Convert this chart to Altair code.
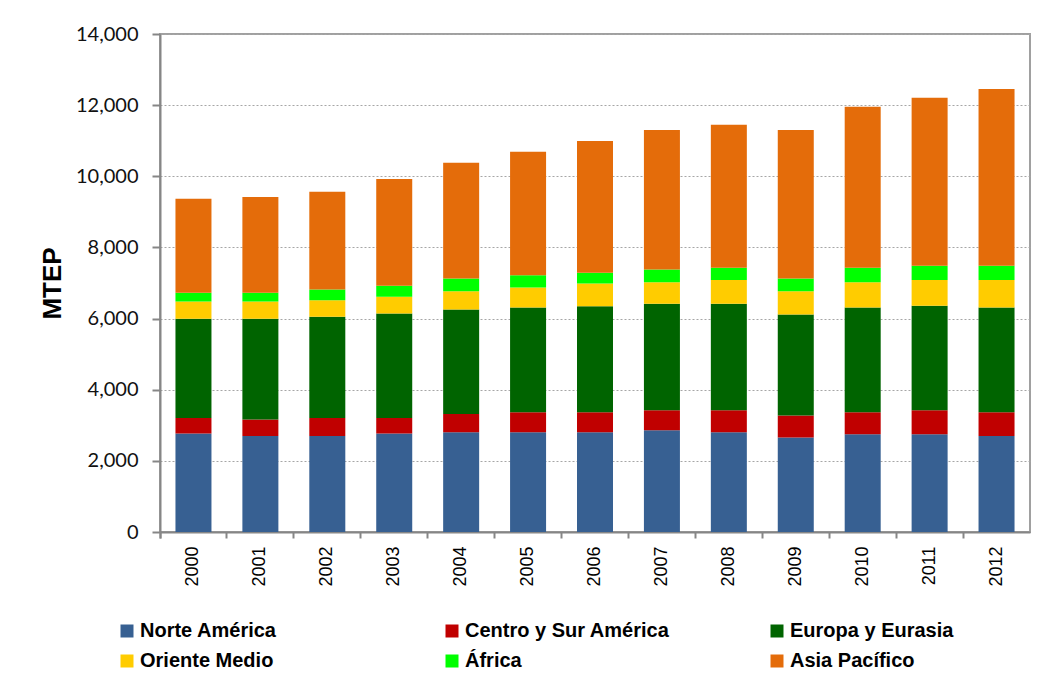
import altair as alt
import pandas as pd

years = ["2000", "2001", "2002", "2003", "2004", "2005", "2006",
         "2007", "2008", "2009", "2010", "2011", "2012"]
series = ["Norte América", "Centro y Sur América", "Europa y Eurasia",
          "Oriente Medio", "África", "Asia Pacífico"]
colors = ["#376092", "#C00000", "#006400", "#FFCC00", "#00FF00", "#E46C0A"]

norte = [2768, 2701, 2701, 2768, 2805, 2805, 2805, 2861, 2805, 2655, 2748, 2748, 2701]
centro = [439, 460, 506, 439, 514, 562, 562, 562, 618, 619, 619, 675, 666]
europa = [2785, 2831, 2841, 2936, 2937, 2945, 2982, 2991, 2991, 2841, 2945, 2934, 2945]
oriente = [489, 489, 470, 468, 515, 563, 638, 610, 667, 656, 712, 724, 769]
africa = [242, 242, 300, 309, 357, 346, 299, 357, 346, 357, 403, 402, 402]
asia = [2644, 2692, 2746, 3001, 3252, 3469, 3704, 3919, 4022, 4172, 4528, 4726, 4970]

values = [norte, centro, europa, oriente, africa, asia]
rows = []
for si, (name, vals) in enumerate(zip(series, values)):
    for y, v in zip(years, vals):
        rows.append({"Año": y, "Región": name, "MTEP": v, "orden": si})
df = pd.DataFrame(rows)

chart = alt.Chart(df).mark_bar(size=36).encode(
    x=alt.X("Año:N", sort=years,
            scale=alt.Scale(paddingInner=0, paddingOuter=0),
            axis=alt.Axis(title=None, labelAngle=-90, labelFont="Liberation Sans",
                          labelFontSize=18, labelColor="#000000", labelPadding=8,
                          tickSize=6, tickColor="#868686", domainColor="#868686",
                          domainWidth=2, tickWidth=2, bandPosition=0, tickExtra=True)),
    y=alt.Y("MTEP:Q", stack="zero",
            scale=alt.Scale(domain=[0, 14000], nice=False),
            axis=alt.Axis(title="MTEP", values=list(range(0, 14001, 2000)), format=",.0f",
                          labelFont="Lato", labelFontSize=20, labelColor="#111111",
                          labelPadding=14, tickSize=8, tickColor="#868686", tickWidth=2,
                          domainColor="#868686", domainWidth=2,
                          grid=True, gridColor="#A6A6A6", gridDash=[2, 2], gridWidth=1,
                          titleFont="Liberation Sans", titleFontSize=26, titleFontWeight="bold",
                          titleColor="#000000", titlePadding=10)),
    color=alt.Color("Región:N", scale=alt.Scale(domain=series, range=colors),
                    legend=alt.Legend(title=None, orient="none", legendX=-43, legendY=587,
                                      direction="horizontal",
                                      columns=3, gridAlign="all", columnPadding=97,
                                      rowPadding=10, symbolType="square", symbolSize=169,
                                      symbolStrokeWidth=0, labelFont="Liberation Sans",
                                      labelFontSize=20, labelFontWeight="bold",
                                      labelColor="#000000", labelOffset=3, padding=0,
                                      labelLimit=400)),
    order=alt.Order("orden:Q", sort="ascending"),
).properties(
    width=870, height=498,
    autosize=alt.AutoSizeParams(type="none"),
    padding={"left": 152, "top": 26, "right": 16, "bottom": 146},
).configure_view(
    stroke="#A0A0A0", strokeWidth=2
)

chart.save("out.html", embed_options={"renderer": "svg", "actions": False})
